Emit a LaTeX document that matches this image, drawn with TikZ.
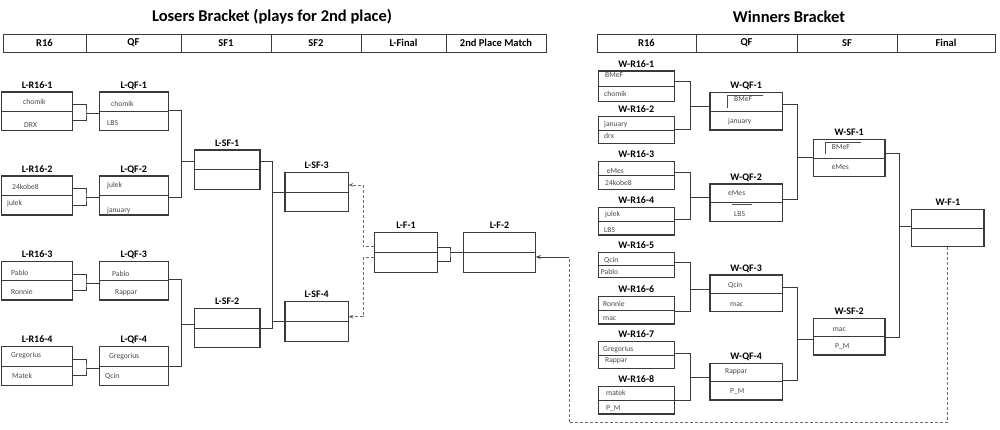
\documentclass[tikz,border=0pt]{standalone}
\usepackage{fontspec}
\setmainfont{Carlito}
\usetikzlibrary{calc,arrows.meta}
\definecolor{linec}{HTML}{3A3A3A}
\definecolor{dashc}{HTML}{6E6E6E}
\definecolor{namec}{HTML}{4A4A4A}
\newcommand{\matchbox}[6]{%
  \node[boxst, minimum width={(#4-#2)*1pt}, minimum height={(#5-#3)*1pt}, anchor=north west] (#1) at (#2,#3) {};
  \draw[divst] (#1.west) -- (#1.east);
  \node[lbl, anchor=base, yshift=4pt] (#1-l) at (#1.north) {#6};}
\newcommand{\hcell}[4]{%
  \node[hdrcell, minimum width={(#3-#2)*1pt}, anchor=north west] (#1) at (#2,34) {#4};}
\newcommand{\nm}[4]{\node[nmst] (#1) at (#2,#3) {#4};}
\newcommand{\brk}[7]{%
  \coordinate (#6-j) at (#5,#7);
  \draw[conn] (#1.east |- 0,#2) -| (#6-j) |- (#3.east |- 0,#4);
  \draw[conn] (#6-j) -- (#6.west |- #6-j);}
\begin{document}
\begin{tikzpicture}[x=1pt,y=-1pt,
  boxst/.style={draw=linec, line width=1.1pt, inner sep=0pt, outer sep=0pt},
  divst/.style={draw=linec, line width=1pt},
  conn/.style={draw=linec, line width=0.9pt},
  dconn/.style={draw=dashc, line width=0.9pt, dash pattern=on 3pt off 2pt},
  tipst/.style={-{Stealth[length=5pt,width=4pt]}},
  lbl/.style={font=\bfseries\fontsize{10}{12}\selectfont, text=black, inner sep=0pt},
  nmst/.style={font=\fontsize{7.6}{9}\selectfont, text=namec, inner sep=0pt, anchor=west},
  hdrcell/.style={draw=linec, line width=1pt, minimum height=18pt, inner sep=0pt, outer sep=0pt, font=\bfseries\fontsize{10.5}{12}\selectfont},
  ttl/.style={font=\bfseries\fontsize{16.5}{19}\selectfont, inner sep=0pt},
  markst/.style={draw=namec, line width=0.6pt}]
\fill[white] (0,0) rectangle (1000,429);
\useasboundingbox (0,0) rectangle (1000,429);

% titles
\node[ttl] (tl) at (272,16.5) {Losers Bracket (plays for 2nd place)};
\node[ttl] (tw) at (789,16.5) {Winners Bracket};

% headers
\hcell{hl1}{3}{86}{R16}
\hcell{hl2}{86}{181}{QF}
\hcell{hl3}{181}{271}{SF1}
\hcell{hl4}{271}{361}{SF2}
\hcell{hl5}{361}{446}{L-Final}
\hcell{hl6}{446}{546}{2nd Place Match}
\hcell{hw1}{597}{696}{R16}
\hcell{hw2}{696}{797}{QF}
\hcell{hw3}{797}{897}{SF}
\hcell{hw4}{897}{995}{Final}

% losers boxes
\matchbox{lr161}{1.7}{92}{72.7}{130.7}{L-R16-1}
\matchbox{lr162}{1.7}{176}{72.7}{215}{L-R16-2}
\matchbox{lr163}{1.7}{261.7}{72.7}{300}{L-R16-3}
\matchbox{lr164}{1.7}{346.7}{72.7}{385.3}{L-R16-4}
\matchbox{lqf1}{99.3}{92}{168.3}{130.7}{L-QF-1}
\matchbox{lqf2}{99.3}{176}{168.3}{215}{L-QF-2}
\matchbox{lqf3}{99.3}{261.7}{168.3}{300}{L-QF-3}
\matchbox{lqf4}{99.3}{346.7}{168.3}{385.3}{L-QF-4}
\matchbox{lsf1}{194.3}{150}{260}{189.3}{L-SF-1}
\matchbox{lsf2}{194.3}{308.7}{260}{347.7}{L-SF-2}
\matchbox{lsf3}{285}{172.7}{348.3}{211.7}{L-SF-3}
\matchbox{lsf4}{285}{301.7}{348.3}{341.7}{L-SF-4}
\matchbox{lf1}{374.3}{232.7}{437.7}{272.7}{L-F-1}
\matchbox{lf2}{463.3}{232.7}{535.7}{272.7}{L-F-2}

% winners boxes
\matchbox{wr161}{598.3}{71}{674.3}{101.7}{W-R16-1}
\matchbox{wr162}{598.3}{116.7}{674.3}{143.3}{W-R16-2}
\matchbox{wr163}{598.3}{161.7}{674.3}{189.3}{W-R16-3}
\matchbox{wr164}{598.3}{207.7}{674.3}{235}{W-R16-4}
\matchbox{wr165}{598.3}{252.3}{674.3}{277.7}{W-R16-5}
\matchbox{wr166}{598.3}{296.7}{674.3}{324}{W-R16-6}
\matchbox{wr167}{598.3}{341.7}{674.3}{368.3}{W-R16-7}
\matchbox{wr168}{598.3}{386.7}{674.3}{414}{W-R16-8}
\matchbox{wqf1}{710}{92.3}{782.3}{130}{W-QF-1}
\matchbox{wqf2}{710}{184}{782.3}{221.7}{W-QF-2}
\matchbox{wqf3}{710}{275}{782.3}{311.7}{W-QF-3}
\matchbox{wqf4}{710}{363.3}{782.3}{400}{W-QF-4}
\matchbox{wsf1}{813.3}{139.3}{885}{176.7}{W-SF-1}
\matchbox{wsf2}{813.3}{318.3}{885}{355}{W-SF-2}
\matchbox{wf1}{911.7}{209.3}{984}{246.7}{W-F-1}

% names, losers
\nm{n1}{23}{102.3}{chomik}
\nm{n2}{24}{125.3}{DRX}
\nm{n3}{12}{186.7}{24kobe8}
\nm{n4}{7}{204}{julek}
\nm{n5}{11}{272.7}{Pablo}
\nm{n6}{11}{291.7}{Ronnie}
\nm{n7}{11}{355.3}{Gregorius}
\nm{n8}{12}{376}{Matek}
\nm{n9}{111}{104.3}{chomik}
\nm{n10}{107}{123.3}{LBS}
\nm{n11}{107}{185.7}{julek}
\nm{n12}{107}{210.7}{january}
\nm{n13}{112}{274}{Pablo}
\nm{n14}{115}{292.7}{Rappar}
\nm{n15}{109}{357}{Gregorius}
\nm{n16}{105}{376}{Qcin}

% names, winners
\nm{m1}{605}{75}{BMeF}
\nm{m2}{604}{94.3}{chomik}
\nm{m3}{604}{124.5}{january}
\nm{m4}{604}{135.8}{drx}
\nm{m5}{734}{99.3}{BMeF}
\nm{m6}{728}{121.7}{january}
\nm{m7}{606.7}{170.7}{eMes}
\nm{m8}{605}{183.3}{24kobe8}
\nm{m9}{605}{215}{julek}
\nm{m10}{604}{230}{LBS}
\nm{m11}{728}{193.3}{eMes}
\nm{m12}{734}{214.3}{LBS}
\nm{m13}{604}{260}{Qcin}
\nm{m14}{600.7}{272.3}{Pablo}
\nm{m15}{603}{304.3}{Ronnie}
\nm{m16}{603}{318.3}{mac}
\nm{m17}{728}{285}{Qcin}
\nm{m18}{730}{304.3}{mac}
\nm{m19}{603}{350}{Gregorius}
\nm{m20}{605}{361}{Rappar}
\nm{m21}{606}{392.7}{matek}
\nm{m22}{606}{408.3}{P\_M}
\nm{m23}{725}{371.7}{Rappar}
\nm{m24}{730}{391.7}{P\_M}
\nm{m25}{831.7}{146.7}{BMeF}
\nm{m26}{831.7}{167.3}{eMes}
\nm{m27}{832.7}{330}{mac}
\nm{m28}{835}{346.7}{P\_M}

% small marks
\draw[markst] (727.7,107.7) -- (727.7,95.7) -- (763.3,95.7);
\draw[markst] (825,154.3) -- (825,142.3) -- (860.7,142.3);
\draw[markst] (731.7,204.3) -- (752.3,204.3);

% losers connectors
\brk{lr161}{104.3}{lr161}{120.7}{86}{lqf1}{113}
\brk{lr162}{188.3}{lr162}{205}{86}{lqf2}{197.7}
\brk{lr163}{274.3}{lr163}{290.3}{86}{lqf3}{283.3}
\brk{lr164}{359}{lr164}{375}{86}{lqf4}{368.3}
\brk{lqf1}{110}{lqf2}{197.7}{181.7}{lsf1}{161.7}
\brk{lqf3}{279.3}{lqf4}{366}{181.7}{lsf2}{324.3}
\coordinate (lsf3-j) at (272.7,192.2);
\coordinate (lsf4-j) at (272.7,321.7);
\draw[conn] (lsf1.east |- 0,161.7) -| (lsf3-j) -- (lsf4-j) |- (lsf2.east);
\draw[conn] (lsf3-j) -- (lsf3.west);
\draw[conn] (lsf4-j) -- (lsf4.west);
\brk{lf1}{247.3}{lf1}{261.7}{450}{lf2}{252.7}

% dashed feedback
\coordinate (db1) at (363.3,185);
\coordinate (db2) at (363.3,316.7);
\draw[dconn, tipst] (lf1.west |- 0,246.7) -| (db1) -- (lsf3.east |- db1);
\draw[dconn, tipst] (lf1.west |- 0,257.7) -| (db2) -- (lsf4.east |- db2);

% winners connectors
\brk{wr161}{81}{wr162}{129.3}{690}{wqf1}{106.7}
\brk{wr163}{172.7}{wr164}{219.3}{690}{wqf2}{197.3}
\brk{wr165}{262.7}{wr166}{311.7}{690}{wqf3}{289.3}
\brk{wr167}{353.3}{wr168}{400}{690}{wqf4}{377.3}
\brk{wqf1}{104.3}{wqf2}{199.3}{797}{wsf1}{157.3}
\brk{wqf3}{287.7}{wqf4}{380}{797}{wsf2}{339}
\brk{wsf1}{153.3}{wsf2}{337.3}{899.3}{wf1}{226}

% winners final loser drops to L-F-2
\coordinate (wd1) at (wf1.south |- 0,422.3);
\coordinate (wd2) at (569,257);
\draw[dconn] (wf1.south) -- (wd1) -| (wd2);
\draw[conn, tipst] (wd2) -- (lf2.east |- wd2);
\end{tikzpicture}
\end{document}
